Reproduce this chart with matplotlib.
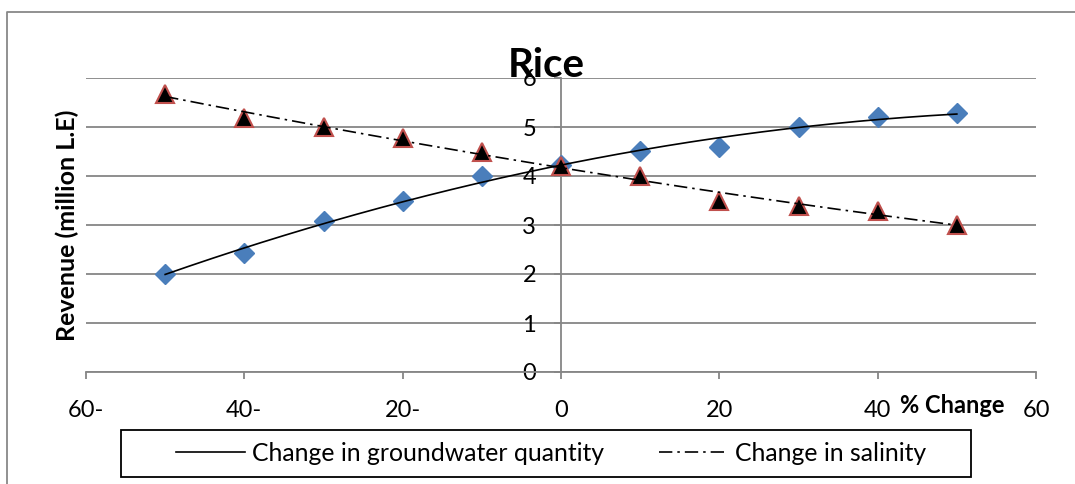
import matplotlib
matplotlib.use("Agg")
import matplotlib.pyplot as plt
import numpy as np
from matplotlib.lines import Line2D
from matplotlib.patches import Rectangle

# % change in the driver (x) and revenue in million L.E (y)
pct_change = [-50, -40, -30, -20, -10, 0, 10, 20, 30, 40, 50]
groundwater = [2.0, 2.42, 3.09, 3.5, 4.0, 4.22, 4.51, 4.6, 5.0, 5.2, 5.29]
salinity = [5.68, 5.19, 4.99, 4.78, 4.48, 4.2, 4.0, 3.48, 3.39, 3.29, 3.0]

x_ticks = [-60, -40, -20, 0, 20, 40, 60]
x_tick_labels = ["60-", "40-", "20-", "0", "20", "40", "60"]
y_ticks = [0, 1, 2, 3, 4, 5, 6]

plt.rcParams["font.family"] = ["Lato", "DejaVu Sans"]

W, H = 1075, 484
GREY = "#868686"

fig = plt.figure(figsize=(W / 100, H / 100), dpi=100)
fig.patch.set_facecolor("white")
ax = fig.add_axes([86 / W, 1 - 372 / H, 950 / W, 294 / H])

ax.set_xlim(-60, 60)
ax.set_ylim(0, 6)
for s in ("top", "right"):
    ax.spines[s].set_visible(False)
ax.spines["left"].set_position(("data", 0))
for s in ("left", "bottom"):
    ax.spines[s].set_color(GREY)
    ax.spines[s].set_linewidth(1.3)
ax.yaxis.grid(True, color=GREY, lw=1.3)
ax.set_axisbelow(True)

ax.set_xticks(x_ticks, x_tick_labels)
ax.set_yticks(y_ticks)
ax.tick_params(axis="x", direction="out", length=5, width=1.3, color=GREY,
               labelsize=17, pad=15)
ax.tick_params(axis="y", direction="out", length=5, width=1.3, color=GREY,
               labelsize=17, pad=13)

# data points
ax.plot(pct_change, groundwater, ls="none", marker="D", ms=10,
        color="#4A7EBB", zorder=3)
ax.plot(pct_change, salinity, ls="none", marker="^", ms=13,
        mfc="black", mec="#C0504D", mew=1.5, zorder=3)

# polynomial trendlines (as in the spreadsheet chart)
xs = np.linspace(min(pct_change), max(pct_change), 200)
gw_fit = np.polyval(np.polyfit(pct_change, groundwater, 2), xs)
sal_fit = np.polyval(np.polyfit(pct_change, salinity, 2), xs)
l1, = ax.plot(xs, gw_fit, color="black", lw=1.2, zorder=4,
              label="Change in groundwater quantity")
l2, = ax.plot(xs, sal_fit, color="black", lw=1.2, zorder=4,
              ls=(0, (8, 3, 1.5, 3)), label="Change in salinity")

# legend entries, with a wider box drawn separately (spreadsheet style)
fig.legend(handles=[l1, l2], loc="center",
           bbox_to_anchor=(551 / W, 1 - 453.5 / H), ncol=2,
           frameon=False, fontsize=17.8, handlelength=2.8,
           handletextpad=0.3, columnspacing=2.2, borderpad=0,
           borderaxespad=0)
fig.add_artist(Rectangle((121 / W, 1 - 477 / H), 850 / W, 47 / H,
                         transform=fig.transFigure, fill=False,
                         edgecolor="black", lw=1.3))

fig.text(546 / W, 1 - 77 / H, "Rice", ha="center", va="baseline",
         fontsize=29, fontweight="bold")
fig.text(67 / W, 1 - 225 / H, "Revenue (million L.E)", rotation=90,
         ha="center", va="center", fontsize=18, fontweight="bold")
fig.text(952 / W, 1 - 413 / H, "% Change", ha="center", va="baseline",
         fontsize=17, fontweight="bold")

# outer chart frame (only top/left edges visible in the crop)
fig.add_artist(Line2D([7 / W, 7 / W, 1.0], [0, 1 - 12 / H, 1 - 12 / H],
                      transform=fig.transFigure, color="#888888", lw=1.3))

fig.savefig("out.png", dpi=100, facecolor="white")
